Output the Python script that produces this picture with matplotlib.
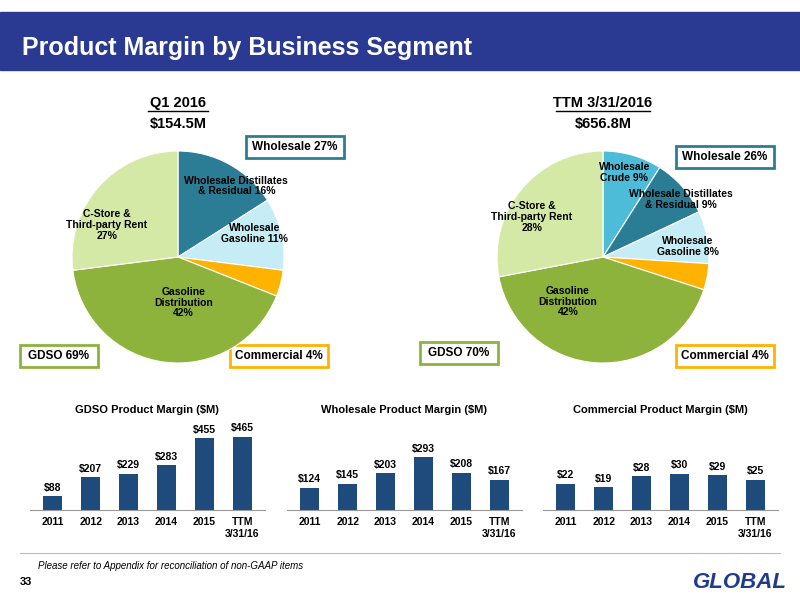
import matplotlib
matplotlib.use("Agg")
import matplotlib.pyplot as plt
from matplotlib.patches import Rectangle

plt.rcParams['font.family'] = ['Liberation Sans', 'DejaVu Sans']

pie1_labels = ["Wholesale Distillates\n& Residual 16%", "Wholesale\nGasoline 11%", "", "Gasoline\nDistribution\n42%", "C-Store &\nThird-party Rent\n27%"]
pie1_values = [16, 11, 4, 42, 27]
pie1_colors = ["#2b7d96", "#c6ecf6", "#ffb300", "#8db33c", "#d5e9a6"]
pie2_labels = ["Wholesale\nCrude 9%", "Wholesale Distillates\n& Residual 9%", "Wholesale\nGasoline 8%", "", "Gasoline\nDistribution\n42%", "C-Store &\nThird-party Rent\n28%"]
pie2_values = [9, 9, 8, 4, 42, 28]
pie2_colors = ["#4cbcd9", "#2b7d96", "#c6ecf6", "#ffb300", "#8db33c", "#d5e9a6"]

years = ["2011", "2012", "2013", "2014", "2015", "TTM\n3/31/16"]
gdso = [88, 207, 229, 283, 455, 465]
wholesale = [124, 145, 203, 293, 208, 167]
commercial = [22, 19, 28, 30, 29, 25]

W, H = 800, 600
fig = plt.figure(figsize=(8, 6), dpi=100)
def ax_px(x, y, w, h):
    return fig.add_axes([x / W, 1 - (y + h) / H, w / W, h / H])

bg = fig.add_axes([0, 0, 1, 1]); bg.set_xlim(0, W); bg.set_ylim(H, 0); bg.axis('off')
bg.add_patch(Rectangle((0, 12), W, 58, color="#2a3a92"))
bg.text(22, 48, "Product Margin by Business Segment", color="white", fontsize=18, fontweight='bold', va='center')
bg.text(178, 103, "Q1 2016", fontsize=10.5, fontweight='bold', ha='center', va='center')
bg.plot([148, 208], [111, 111], color='black', lw=1)
bg.text(178, 124, "$154.5M", fontsize=10.5, fontweight='bold', ha='center', va='center')
bg.text(603, 103, "TTM 3/31/2016", fontsize=10.5, fontweight='bold', ha='center', va='center')
bg.plot([556, 650], [111, 111], color='black', lw=1)
bg.text(603, 124, "$656.8M", fontsize=10.5, fontweight='bold', ha='center', va='center')

def box(x, y, w, h, text, ec):
    bg.add_patch(Rectangle((x, y), w, h, fc='white', ec=ec, lw=2))
    bg.text(x + w / 2, y + h / 2, text, fontsize=8.5, fontweight='bold', ha='center', va='center')
box(246, 136, 98, 22, "Wholesale 27%", "#2b7d96")
box(20, 345, 78, 22, "GDSO 69%", "#8db33c")
box(230, 345, 98, 22, "Commercial 4%", "#ffb300")
box(676, 146, 98, 22, "Wholesale 26%", "#2b7d96")
box(420, 342, 78, 22, "GDSO 70%", "#8db33c")
box(676, 345, 98, 22, "Commercial 4%", "#ffb300")

def pie(cx, cy, r, vals, cols, labels, pos):
    a = ax_px(cx - r, cy - r, 2 * r, 2 * r)
    a.pie(vals, colors=cols, startangle=90, counterclock=False,
          wedgeprops=dict(edgecolor='white', linewidth=0.8))
    a.set_xlim(-1, 1); a.set_ylim(-1, 1)
    for lab, (x, y) in zip(labels, pos):
        if lab:
            a.text(x, y, lab, fontsize=7.5, fontweight='bold', ha='center', va='center', linespacing=1.1)
pie(178, 257, 106, pie1_values, pie1_colors, pie1_labels,
    [(0.55, 0.67), (0.72, 0.22), (0, 0), (0.05, -0.43), (-0.67, 0.30)])
pie(603, 257, 106, pie2_values, pie2_colors, pie2_labels,
    [(0.20, 0.80), (0.73, 0.54), (0.80, 0.10), (0, 0), (-0.33, -0.42), (-0.67, 0.38)])

def bars(x0, title, vals, ymax):
    a = ax_px(x0, 420, 235, 90)
    a.bar(range(len(vals)), vals, width=0.5, color="#1f4a7c")
    a.set_ylim(0, ymax); a.set_xlim(-0.6, 5.6)
    for i, v in enumerate(vals):
        a.text(i, v + ymax * 0.04, f"${v}", ha='center', va='bottom', fontsize=7.5, fontweight='bold')
    a.set_xticks(range(6)); a.set_xticklabels(years, fontsize=7.5, fontweight='bold')
    a.tick_params(length=0, pad=5)
    a.set_yticks([])
    for s in ['top', 'right', 'left']:
        a.spines[s].set_visible(False)
    a.spines['bottom'].set_color('#999999')
    bg.text(x0 + 117, 410, title, fontsize=8, fontweight='bold', ha='center', va='center')
bars(30, "GDSO Product Margin ($M)", gdso, 570)
bars(287, "Wholesale Product Margin ($M)", wholesale, 500)
bars(543, "Commercial Product Margin ($M)", commercial, 75)

bg.plot([20, 780], [553, 553], color='#bbbbbb', lw=0.8)
bg.text(38, 566, "Please refer to Appendix for reconciliation of non-GAAP items", fontsize=7, style='italic', va='center')
bg.text(20, 582, "33", fontsize=8, fontweight='bold', va='center')
bg.text(740, 582, "GLOBAL", fontsize=16, fontweight='bold', style='italic', color='#1f3c8c', ha='center', va='center')
fig.savefig("out.png", dpi=100)
